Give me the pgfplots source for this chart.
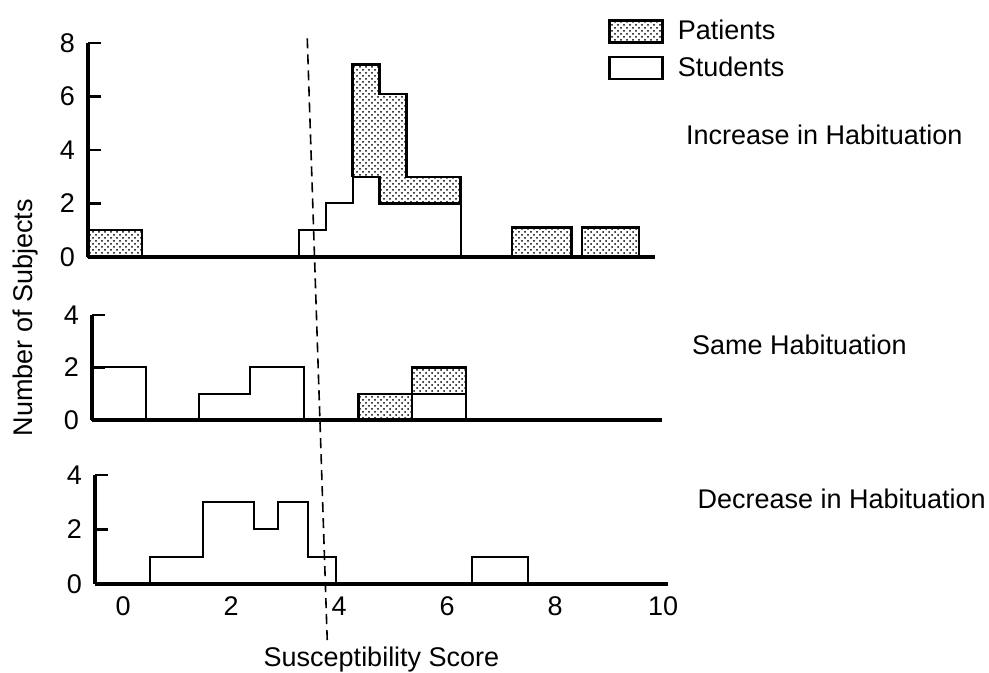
\documentclass[border=0pt]{standalone}
\usepackage{fontspec}
\setmainfont{Liberation Sans}
\usepackage{pgfplots}
\pgfplotsset{compat=1.18}
\usetikzlibrary{patterns}
\newcommand{\lbl}{\fontsize{13.5}{16}\selectfont}
\pgfplotsset{
  panel/.style={
    scale only axis, anchor=south west, clip=false, axis on top,
    axis x line=bottom, axis y line=left,
    every axis x line/.append style={-, line width=1.8pt, line cap=rect},
    every axis y line/.append style={-, line width=1.8pt, line cap=rect},
    x axis line style={-, line width=1.8pt},
    y axis line style={-, line width=1.8pt},
    ymin=0,
    tick align=inside, major tick length=6.5pt,
    every major tick/.append style={line width=1.3pt, black},
    major tick style={line width=1.3pt, black},
    every y tick/.append style={line width=1.3pt, black},
    xtick style={draw=none},
    every x tick/.append style={draw=none},
    tick label style={font=\lbl},
    /pgf/number format/assume math mode=true,
    yticklabel style={xshift=-3pt},
    xticklabel style={yshift=-3pt},
  },
  pat/.style={draw=black, line width=1.2pt, pattern=crosshatch dots, pattern color=black, forget plot, line join=miter},
  stu/.style={draw=black, line width=1pt, fill=white, forget plot, line join=miter},
}
\begin{document}
\begin{tikzpicture}
\useasboundingbox (0,0) rectangle (494.5pt,336.5pt);
% ---------- Increase in Habituation ----------
\begin{axis}[panel, at={(44pt,208pt)}, width=283.5pt, height=107pt,
  xmin=-0.5, xmax=10, ymax=8, ytick={0,2,4,6,8}, xtick=\empty,
  legend image code/.code={\draw[#1] (0pt,-5.5pt) rectangle (26.5pt,5.5pt);},
  legend style={at={(rel axis cs:0.917,1.117)}, anchor=north west, draw=none, fill=none,
    inner sep=0pt, row sep=5pt, font=\lbl, nodes={inner sep=1pt},
    /tikz/every even column/.append style={column sep=0pt}},
  legend cell align=left]
\addlegendimage{draw=black, line width=1.2pt, pattern=crosshatch dots, pattern color=black}
\addlegendentry{\hspace{6pt}Patients}
\addlegendimage{draw=black, line width=1.2pt, fill=white}
\addlegendentry{\hspace{6pt}Students}
% patients at 0
\addplot[pat] coordinates {(-0.5,0) (-0.5,1) (0.5,1) (0.5,0)} \closedcycle;
% students
\addplot[stu] coordinates {(3.4,0) (3.4,1) (3.9,1) (3.9,2) (4.4,2) (4.4,3) (4.9,3) (4.9,2) (6.4,2) (6.4,0)} \closedcycle;
% patients stacked on students
\addplot[pat] coordinates {(4.4,3) (4.4,7.2) (4.9,7.2) (4.9,6.1) (5.4,6.1) (5.4,3) (6.4,3) (6.4,2) (4.9,2) (4.9,3) (4.4,3)};
% patients high scores
\addplot[pat] coordinates {(7.35,0) (7.35,1.1) (8.45,1.1) (8.45,0)} \closedcycle;
\addplot[pat] coordinates {(8.65,0) (8.65,1.1) (9.7,1.1) (9.7,0)} \closedcycle;
\node[anchor=west, inner sep=0pt, font=\lbl] at (axis cs:10.57,4.56) {Increase in Habituation};
\end{axis}
% ---------- Same Habituation ----------
\begin{axis}[panel, at={(46pt,126.5pt)}, width=285pt, height=52.5pt,
  xmin=-0.5, xmax=10.06, ymax=4, ytick={0,2,4}, xtick=\empty]
\addplot[stu] coordinates {(-0.5,0) (-0.5,2) (0.5,2) (0.5,0)} \closedcycle;
\addplot[stu] coordinates {(1.48,0) (1.48,1) (2.43,1) (2.43,2) (3.43,2) (3.43,0)} \closedcycle;
\addplot[pat] coordinates {(4.44,0) (4.44,1) (5.43,1) (5.43,0)} \closedcycle;
\addplot[stu] coordinates {(5.43,0) (5.43,1) (6.43,1) (6.43,0)} \closedcycle;
\addplot[pat] coordinates {(5.43,1) (5.43,2) (6.43,2) (6.43,1) (5.43,1)};
\node[anchor=west, inner sep=0pt, font=\lbl] at (axis cs:10.61,2.86) {Same Habituation};
\node[rotate=90, font=\lbl, inner sep=0pt] at (axis cs:-1.74,3.89) {Number of Subjects};
\end{axis}
% ---------- Decrease in Habituation ----------
\begin{axis}[panel, at={(47.5pt,44.5pt)}, width=286.5pt, height=54.5pt,
  xmin=-0.52, xmax=10.09, ymax=4, ytick={0,2,4}, xtick={0,2,4,6,8,10},
  xlabel={Susceptibility Score},
  xlabel style={at={(axis description cs:0.5,0)}, anchor=center, yshift=-38pt, font=\lbl}]
\addplot[stu] coordinates {(0.5,0) (0.5,1) (1.48,1) (1.48,3) (2.43,3) (2.43,2) (2.87,2) (2.87,3) (3.43,3) (3.43,1) (3.94,1) (3.94,0)} \closedcycle;
\addplot[stu] coordinates {(6.46,0) (6.46,1) (7.5,1) (7.5,0)} \closedcycle;
\node[anchor=west, inner sep=0pt, font=\lbl] at (axis cs:10.63,3.12) {Decrease in Habituation};
\draw[dash pattern=on 5pt off 3pt, line width=0.8pt] (axis cs:3.78,-2.06) -- (axis cs:3.41,20.04);
\end{axis}
\end{tikzpicture}
\end{document}
